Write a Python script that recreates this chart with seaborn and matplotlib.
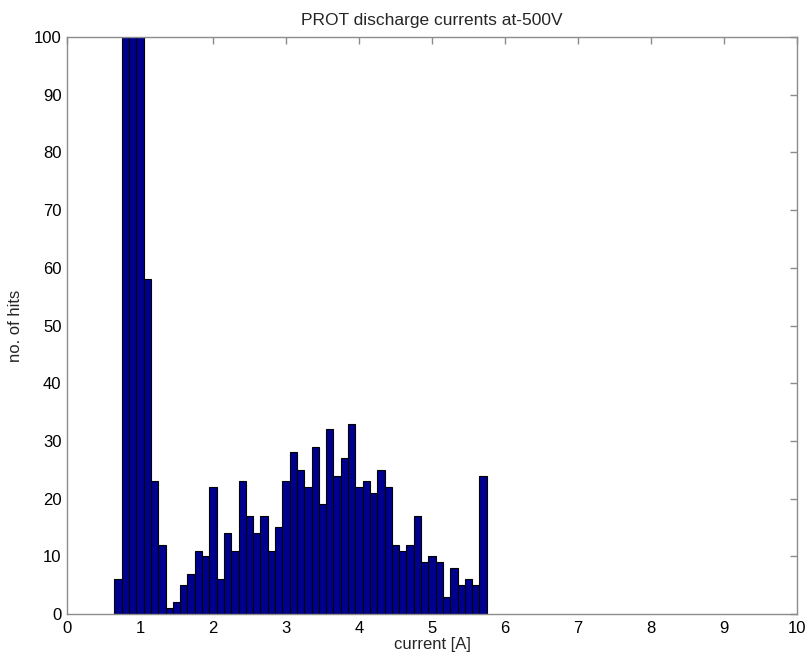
import numpy as np
import pandas as pd
import matplotlib
matplotlib.use("Agg")
import matplotlib.pyplot as plt
import seaborn as sns

# Histogram bins (current in A): first bin left edge and bin width
bin_start = 0.65
bin_width = 0.1
# Counts per bin (bins 2-4 exceed the 100 y-limit, clipped in the original)
counts = [6, 250, 300, 150, 58, 23, 12, 1, 2, 5, 7, 11, 10, 22, 6, 14, 11, 23,
          17, 14, 17, 11, 15, 23, 28, 25, 22, 29, 19, 32, 24, 27, 33, 22, 23,
          21, 25, 22, 12, 11, 12, 17, 9, 10, 9, 3, 8, 5, 6, 5, 24]

x_ticks = list(range(0, 11))
y_ticks = list(range(0, 101, 10))

title = "PROT discharge currents at-500V"
xlabel = "current [A]"
ylabel = "no. of hits"

n = len(counts)
centers = bin_start + bin_width * (np.arange(n) + 0.5)
df = pd.DataFrame({"current": centers, "hits": counts})

sns.set_style("white")
plt.rcParams["font.family"] = ["Liberation Sans", "DejaVu Sans"]

fig = plt.figure(figsize=(8.07, 6.6), dpi=100)
ax = fig.add_axes([67 / 807, 46 / 660, 730 / 807, 577 / 660])

sns.histplot(data=df, x="current", weights="hits", bins=n,
             binrange=(bin_start, bin_start + n * bin_width), ax=ax,
             color="#00008F", edgecolor="black", linewidth=0.8, alpha=1.0)

ax.set_xlim(0, 10)
ax.set_ylim(0, 100)
ax.set_xticks(x_ticks)
ax.set_yticks(y_ticks)
ax.set_xticklabels([str(t) for t in x_ticks])
ax.set_yticklabels([str(t) for t in y_ticks])

for s in ax.spines.values():
    s.set_visible(True)
    s.set_color("#8c8c8c")
    s.set_linewidth(1.0)
ax.tick_params(direction="in", length=5, width=1.0, color="#8c8c8c",
               top=True, right=True, labelsize=12, labelcolor="black")
ax.tick_params(axis="x", pad=5)
ax.tick_params(axis="y", pad=4)

ax.set_title(title, fontsize=12.5, pad=9)
ax.set_xlabel(xlabel, fontsize=12, labelpad=1)
ax.set_ylabel(ylabel, fontsize=12, labelpad=8)

fig.savefig("out.png", dpi=100)
